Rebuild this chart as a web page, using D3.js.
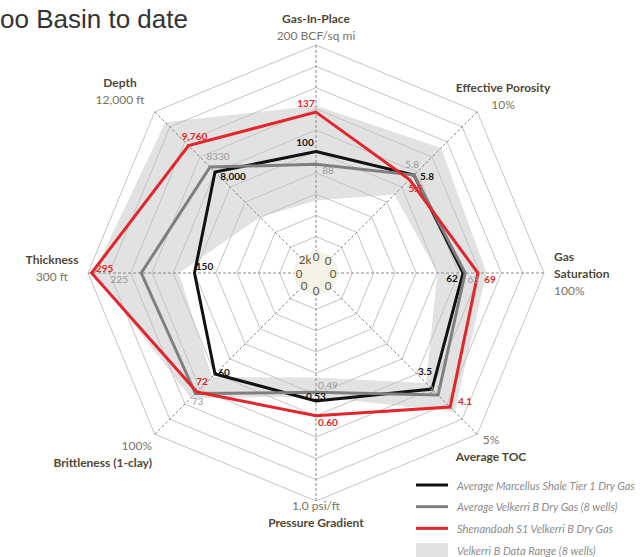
<!DOCTYPE html>
<html><head><meta charset="utf-8">
<script src="https://cdn.jsdelivr.net/npm/d3@7"></script>
<style>html,body{margin:0;padding:0;background:#fff;overflow:hidden}</style>
</head><body>
<svg id="chart" width="640" height="557"></svg>
<script>
// ---- data ----
const axes = ["Gas-In-Place","Effective Porosity","Gas Saturation","Average TOC","Pressure Gradient","Brittleness (1-clay)","Thickness","Depth"];
const axisMaxLabels = ["200 BCF/sq mi","10%","100%","5%","1.0 psi/ft","100%","300 ft","12,000 ft"];
const axisMin = [0,0,0,0,0,0,0,2000];
const axisMax = [200,10,100,5,1.0,100,300,12000];
const centerLabels = ["0","0","0","0","0","0","0","2k"];
const marcellus = [100,5.8,62,3.5,0.53,60,150,8000];
const marcellusLabels = ["100","5.8","62","3.5","0.53","60","150","8,000"];
const velkerriAvg = [88,5.8,63,3.7,0.49,73,225,8330];
const velkerriAvgLabels = ["88","5.8","63","3.7","0.49","73","225","8330"];
const shenandoah = [137,5.5,69,4.1,0.60,72,295,9760];
const shenandoahLabels = ["137","5.5","69","4.1","0.60","72","295","9,760"];
const rangeMin = [54,4.5,50,3.3,0.42,62,172,5000];
const rangeMax = [143,7.6,73,4.25,0.51,76,292,11300];
const legendLabels = ["Average Marcellus Shale Tier 1 Dry Gas","Average Velkerri B Dry Gas (8 wells)","Shenandoah S1 Velkerri B Dry Gas","Velkerri B Data Range (8 wells)"];
const titleText = "oo Basin to date";

// ---- layout ----
const cx = 316, cy = 273, R0 = 15, R = 228, nRings = 10;
const svg = d3.select("#chart");
const FONT = "Lato, 'Open Sans', sans-serif";
const n = axes.length;
const ang = i => i * 2 * Math.PI / n;
const scales = axes.map((a,i) => d3.scaleLinear().domain([axisMin[i], axisMax[i]]).range([R0, R]));
const ringScale = d3.scaleLinear().domain([0, nRings]).range([R0, R]);
const pt = (i, r) => [cx + r * Math.sin(ang(i)), cy - r * Math.cos(ang(i))];

const g = svg.append("g");

// title
svg.append("text").attr("x", 0).attr("y", 28).text(titleText)
  .attr("font-family", "'Liberation Sans', Arial, sans-serif").attr("font-size", 26).attr("fill", "#333");

// band
const polyPath = (vals) => {
  const p = vals.map((v,i) => pt(i, scales[i](v)));
  return "M" + p.map(d => d.join(",")).join("L") + "Z";
};
g.append("path").attr("d", polyPath(rangeMax) + polyPath(rangeMin))
  .attr("fill", "#e2e2e2").attr("fill-rule", "evenodd").attr("stroke", "none");

// rings
for (let k = 0; k <= nRings; k++) {
  const r = ringScale(k);
  const p = d3.range(n).map(i => pt(i, r));
  g.append("path").attr("d", "M" + p.map(d => d.join(",")).join("L") + "Z")
    .attr("fill", "none").attr("stroke", "#c4c4c4").attr("stroke-width", 1);
}
// spokes
d3.range(n).forEach(i => {
  const a = pt(i, R0), b = pt(i, R);
  g.append("line").attr("x1", a[0]).attr("y1", a[1]).attr("x2", b[0]).attr("y2", b[1])
    .attr("stroke", "#8a8a8a").attr("stroke-width", 1).attr("stroke-dasharray", "3,2");
});

// series lines
const seriesList = [
  {vals: marcellus, labels: marcellusLabels, color: "#111", lab: "#111", weight: "bold"},
  {vals: velkerriAvg, labels: velkerriAvgLabels, color: "#7f7f7f", lab: "#9a9a9a", weight: "normal"},
  {vals: shenandoah, labels: shenandoahLabels, color: "#e3262b", lab: "#e3262b", weight: "bold"}
];
seriesList.forEach(s => {
  g.append("path").attr("d", polyPath(s.vals)).attr("fill", "none")
    .attr("stroke", s.color).attr("stroke-width", 3).attr("stroke-linejoin", "miter");
});

// data label nudges (pixels, relative to vertex) per series per axis
const nudges = [
  [[-11,-10],[13,1],[-11,5],[-7,-18],[0,-5],[9,-2],[10,-7],[18,4]],
  [[12,6],[-2,-11],[8,6],[-3,-6],[12,-7],[2,7],[-22,6],[8,-11]],
  [[-10,-9],[6,8],[12,6],[15,-6],[12,6],[5,-11],[13,-5],[6,-10]]
];
seriesList.forEach((s, si) => {
  s.vals.forEach((v, i) => {
    const p = pt(i, scales[i](v));
    g.append("text").attr("x", p[0] + nudges[si][i][0]).attr("y", p[1] + nudges[si][i][1])
      .attr("text-anchor", "middle").attr("dominant-baseline", "central")
      .attr("font-family", FONT).attr("font-size", 10).attr("font-weight", s.weight)
      .attr("fill", s.lab).text(s.labels[i]);
  });
});

// center labels
g.append("circle").attr("cx", cx).attr("cy", cy).attr("r", 22).attr("fill", "#f4f1e6").attr("opacity", 0.9);
centerLabels.forEach((t, i) => {
  const p = pt(i, R0 + 2);
  g.append("text").attr("x", p[0] + (i === 7 ? 1 : 0)).attr("y", p[1] - (i === 7 ? 1 : 0))
    .attr("text-anchor", "middle").attr("dominant-baseline", "central")
    .attr("font-family", FONT).attr("font-size", 11.5).attr("fill", "#5c5436").text(t);
});

// axis titles
const titleLayout = [
  {x: 316, y: 18, anchor: "middle", lines: [[axes[0], true], [axisMaxLabels[0], false]]},
  {x: 503, y: 87, anchor: "middle", lines: [[axes[1], true], [axisMaxLabels[1], false]]},
  {x: 554, y: 256, anchor: "start", lines: [["Gas", true], ["Saturation", true], [axisMaxLabels[2], false]]},
  {x: 491, y: 439, anchor: "middle", lines: [[axisMaxLabels[3], false], [axes[3], true]]},
  {x: 316, y: 505, anchor: "middle", lines: [[axisMaxLabels[4], false], [axes[4], true]]},
  {x: 152, y: 445, anchor: "end", lines: [[axisMaxLabels[5], false], [axes[5], true]]},
  {x: 52, y: 259, anchor: "middle", lines: [[axes[6], true], [axisMaxLabels[6], false]]},
  {x: 120, y: 82, anchor: "middle", lines: [[axes[7], true], [axisMaxLabels[7], false]]}
];
titleLayout.forEach(L => {
  L.lines.forEach((ln, k) => {
    svg.append("text").attr("x", L.x).attr("y", L.y + k * 17)
      .attr("text-anchor", L.anchor).attr("dominant-baseline", "central")
      .attr("font-family", FONT).attr("font-size", 12)
      .attr("font-weight", ln[1] ? "bold" : "normal")
      .attr("fill", ln[1] ? "#4e4836" : "#7a7462").text(ln[0]);
  });
});

// legend
const legColors = ["#111", "#7f7f7f", "#e3262b"];
const legY = d3.scaleLinear().domain([0, 3]).range([485, 550]);
legendLabels.forEach((t, k) => {
  const y = legY(k);
  if (k < 3) {
    svg.append("line").attr("x1", 416).attr("x2", 448).attr("y1", y).attr("y2", y)
      .attr("stroke", legColors[k]).attr("stroke-width", 3);
  } else {
    svg.append("rect").attr("x", 416).attr("y", y - 7).attr("width", 32).attr("height", 14).attr("fill", "#e2e2e2");
  }
  svg.append("text").attr("x", 457).attr("y", y).attr("dominant-baseline", "central")
    .attr("font-family", FONT).attr("font-size", 11).attr("font-style", "italic")
    .attr("fill", "#8c8c8c").text(t);
});
</script>
</body></html>
